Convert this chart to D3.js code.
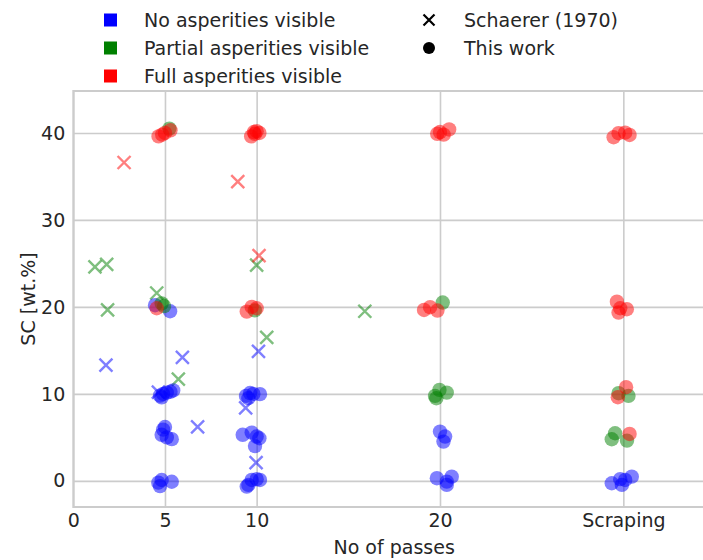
<!DOCTYPE html>
<html>
<head>
<meta charset="utf-8">
<script src="https://cdn.jsdelivr.net/npm/d3@7"></script>
<style>
  html, body { margin: 0; padding: 0; background: #ffffff; }
  svg { display: block; font-family: "DejaVu Sans", sans-serif; }
</style>
</head>
<body>
<svg id="chart" width="703" height="560"></svg>
<script>
// ---------------- data ----------------
const xTicks = [0, 5, 10, 20, 30];
const xTickLabels = ["0", "5", "10", "20", "Scraping"];
const yTicks = [0, 10, 20, 30, 40];
const categories = ["No asperities visible", "Partial asperities visible", "Full asperities visible"];
const sources = ["Schaerer (1970)", "This work"];

// Schaerer (1970) – crosses  [passes, SC]
const schaererNo = [[1.78, 13.3], [5.95, 14.2], [10.1, 14.9], [6.78, 6.2], [9.4, 8.4], [9.97, 2.1], [4.64, 10.2]];
const schaererPartial = [[1.18, 24.6], [1.82, 24.9], [1.87, 19.65], [4.55, 21.6], [10.0, 24.8], [10.55, 16.5], [5.73, 11.7], [15.9, 19.5]];
const schaererFull = [[2.77, 36.6], [8.97, 34.4], [10.13, 25.9]];

// This work – circles  [passes, SC]
const thisWorkNo = [
  // 5 passes
  [4.46, 20.2], [5.28, 19.5],
  [4.73, 9.8], [4.9, 10.0], [5.1, 10.15], [5.3, 10.25], [5.45, 10.4], [4.82, 9.6],
  [4.9, 5.9], [4.82, 5.3], [5.1, 5.0], [5.37, 4.8], [5.0, 6.2],
  [4.64, -0.2], [4.82, 0.1], [5.37, -0.1], [4.73, -0.6],
  // 10 passes
  [9.42, 9.77], [9.64, 10.1], [9.82, 10.0], [10.18, 9.97], [9.55, 9.5],
  [9.24, 5.3], [9.73, 5.55], [10.0, 5.1], [10.15, 4.9], [9.91, 4.0],
  [9.55, -0.46], [9.73, 0.11], [10.0, 0.2], [10.18, 0.11], [9.46, -0.65],
  // 20 passes
  [20.0, 5.67], [20.28, 5.1], [20.19, 4.52],
  [19.83, 0.31], [20.37, -0.08], [20.64, 0.49], [20.37, -0.46],
  // scraping
  [29.37, -0.27], [29.83, 0.2], [30.1, 0.11], [30.46, 0.49], [29.92, -0.46]
];
const thisWorkPartial = [
  [5.24, 40.5], [4.82, 20.4], [4.95, 20.1],
  [9.9, 19.6],
  [20.15, 20.5], [19.73, 9.77], [19.97, 10.46], [20.37, 10.15], [19.8, 9.5],
  [29.74, 10.08], [30.28, 9.77], [29.55, 5.48], [29.37, 4.79], [30.2, 4.63]
];
const thisWorkFull = [
  [4.65, 39.6], [4.85, 39.8], [5.0, 40.0], [5.3, 40.3],
  [4.55, 19.85],
  [9.7, 39.6], [9.9, 39.9], [10.0, 40.2], [10.15, 40.0], [9.85, 40.1],
  [9.46, 19.46], [9.73, 20.0], [10.0, 19.85],
  [19.85, 39.9], [20.0, 40.1], [20.2, 39.8], [20.5, 40.4],
  [19.13, 19.65], [19.46, 19.97], [19.86, 19.58],
  [29.47, 39.5], [29.74, 39.97], [30.1, 40.03], [30.34, 39.77],
  [29.65, 20.6], [29.83, 19.85], [30.19, 19.74], [29.74, 19.35],
  [30.15, 10.77], [29.7, 9.62], [30.34, 5.4]
];

// ---------------- styles / layout ----------------
const colors = ["#0000ff", "#008000", "#ff0000"];
const textColor = "#262626";
const gridColor = "#cccccc";
const fontSize = 19;

const svg = d3.select("#chart");
const plot = { left: 73.3, top: 91, bottom: 507, right: 715 };

const x = d3.scaleLinear().domain([0, 35]).range([plot.left, plot.right]);
const y = d3.scaleLinear().domain([-3, 44.82]).range([plot.bottom, plot.top]);

// grid
const gx = svg.append("g")
  .attr("transform", `translate(0,${plot.bottom})`)
  .call(d3.axisBottom(x).tickValues(xTicks).tickFormat((d, i) => xTickLabels[i])
        .tickSize(-(plot.bottom - plot.top)).tickPadding(7));
gx.select(".domain").remove();
gx.selectAll(".tick line").attr("stroke", gridColor).attr("stroke-width", 1.6);
gx.selectAll(".tick text").attr("fill", textColor).attr("font-size", fontSize)
  .attr("font-family", "DejaVu Sans");

const gy = svg.append("g")
  .attr("transform", `translate(${plot.left},0)`)
  .call(d3.axisLeft(y).tickValues(yTicks).tickFormat(d3.format("d"))
        .tickSize(-(plot.right - plot.left)).tickPadding(8));
gy.select(".domain").remove();
gy.selectAll(".tick line").attr("stroke", gridColor).attr("stroke-width", 1.6);
gy.selectAll(".tick text").attr("fill", textColor).attr("font-size", fontSize)
  .attr("font-family", "DejaVu Sans");

// spines
svg.append("rect")
  .attr("x", plot.left).attr("y", plot.top)
  .attr("width", plot.right - plot.left).attr("height", plot.bottom - plot.top)
  .attr("fill", "none").attr("stroke", gridColor).attr("stroke-width", 2);

// axis labels
svg.append("text")
  .attr("x", (plot.left + plot.right) / 2).attr("y", 554)
  .attr("text-anchor", "middle").attr("fill", textColor)
  .attr("font-size", fontSize).text("No of passes");
svg.append("text")
  .attr("transform", `translate(28,${(plot.top + plot.bottom) / 2}) rotate(-90)`)
  .attr("text-anchor", "middle").attr("dy", "0.35em").attr("fill", textColor)
  .attr("font-size", fontSize).text("SC [wt.%]");

// marks
const clip = svg.append("clipPath").attr("id", "clip").append("rect")
  .attr("x", plot.left).attr("y", plot.top)
  .attr("width", plot.right - plot.left).attr("height", plot.bottom - plot.top);
const marks = svg.append("g").attr("clip-path", "url(#clip)");

const crossPath = (s) => `M${-s},${-s}L${s},${s}M${-s},${s}L${s},${-s}`;
[schaererNo, schaererPartial, schaererFull].forEach((arr, i) => {
  marks.append("g").selectAll("path").data(arr).join("path")
    .attr("transform", d => `translate(${x(d[0])},${y(d[1])})`)
    .attr("d", crossPath(6.5))
    .attr("stroke", colors[i]).attr("stroke-width", 2.4)
    .attr("stroke-opacity", 0.5).attr("fill", "none");
});
[thisWorkNo, thisWorkPartial, thisWorkFull].forEach((arr, i) => {
  marks.append("g").selectAll("circle").data(arr).join("circle")
    .attr("cx", d => x(d[0])).attr("cy", d => y(d[1])).attr("r", 7.2)
    .attr("fill", colors[i]).attr("fill-opacity", 0.5);
});

// legend
const leg = svg.append("g");
const rowY = [20, 48, 76];
categories.forEach((c, i) => {
  leg.append("rect").attr("x", 104).attr("y", rowY[i] - 6.5).attr("width", 13).attr("height", 13)
    .attr("fill", colors[i]);
  leg.append("text").attr("x", 144).attr("y", rowY[i]).attr("dy", "0.35em")
    .attr("fill", textColor).attr("font-size", fontSize).text(c);
});
leg.append("path").attr("transform", `translate(429,${rowY[0]})`).attr("d", crossPath(5.5))
  .attr("stroke", "#000").attr("stroke-width", 2.2).attr("fill", "none");
leg.append("circle").attr("cx", 429).attr("cy", rowY[1]).attr("r", 6).attr("fill", "#000");
sources.forEach((s, i) => {
  leg.append("text").attr("x", 464).attr("y", rowY[i]).attr("dy", "0.35em")
    .attr("fill", textColor).attr("font-size", fontSize).text(s);
});
</script>
</body>
</html>
